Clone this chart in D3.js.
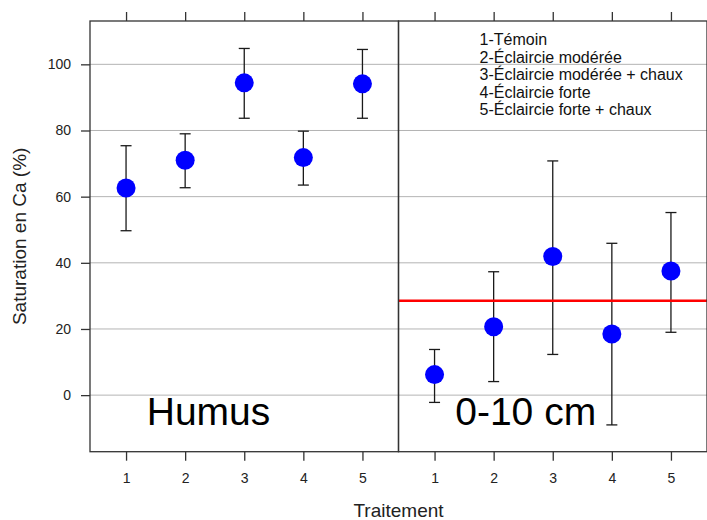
<!DOCTYPE html>
<html lang="fr">
<head>
    <meta charset="UTF-8">
    <title>Saturation en Ca</title>
    <script src="https://cdn.jsdelivr.net/npm/d3@7"></script>
    <style>
        body{
            margin: 0;
            background: white;
        }
        svg text{
            font-family: "Liberation Sans", Arial, sans-serif;
        }
    </style>
</head>
<body>
</body>
<script type="text/javascript">

    // values
    let treatments = [1, 2, 3, 4, 5];
    let humusMean = [62.6, 71.0, 94.4, 71.8, 94.1];
    let humusLow  = [49.7, 62.7, 83.7, 63.5, 83.7];
    let humusHigh = [75.4, 79.0, 104.8, 79.8, 104.5];
    let soilMean = [6.2, 20.7, 41.9, 18.5, 37.5];
    let soilLow  = [-2.2, 4.1, 12.3, -9.0, 19.0];
    let soilHigh = [13.8, 37.3, 70.8, 45.9, 55.2];
    let soilRef = 28.5;
    let yTicks = [0, 20, 40, 60, 80, 100];
    let panelNames = ["Humus", "0-10 cm"];
    let legendLabels = ["1-Témoin", "2-Éclaircie modérée", "3-Éclaircie modérée + chaux",
                        "4-Éclaircie forte", "5-Éclaircie forte + chaux"];

    let width = 707, height = 520;
    let plotLeft = 90, plotTop = 21, plotBottom = 451.7;
    let panelW = 308.5;

    let svg = d3.select("body")
        .append("svg")
        .attr("width", width)
        .attr("height", height);

    let y = d3.scaleLinear()
        .domain([-17.1, 113.1])
        .range([plotBottom, plotTop]);

    let panels = [
        {name: panelNames[0], mean: humusMean, low: humusLow, high: humusHigh, ref: null},
        {name: panelNames[1], mean: soilMean, low: soilLow, high: soilHigh, ref: soilRef}
    ];

    // grid across both panels
    svg.append("g")
        .selectAll("line")
        .data(yTicks)
        .join("line")
        .attr("x1", plotLeft)
        .attr("x2", plotLeft + 2 * panelW)
        .attr("y1", d => y(d))
        .attr("y2", d => y(d))
        .attr("stroke", "#b4b4b4")
        .attr("stroke-width", 1);

    // left axis
    let yAxis = d3.axisLeft(y)
        .tickValues(yTicks)
        .tickSize(9)
        .tickPadding(10);
    let yAxisGroup = svg.append("g")
        .attr("transform", `translate(${plotLeft},0)`)
        .call(yAxis);
    yAxisGroup.select(".domain").remove();
    yAxisGroup.selectAll("line").attr("stroke", "#333").attr("stroke-width", 1.3);
    yAxisGroup.selectAll("text").attr("font-size", 14).attr("fill", "#222")
        .attr("font-family", "Liberation Sans, Arial, sans-serif");

    panels.forEach((p, i) => {
        let x0 = plotLeft + i * panelW;
        let x = d3.scaleLinear()
            .domain([0.39, 5.61])
            .range([x0, x0 + panelW]);

        let g = svg.append("g");

        // bottom and top axes
        let xAxis = d3.axisBottom(x)
            .tickValues(treatments)
            .tickSize(9)
            .tickPadding(12)
            .tickFormat(d3.format("d"));
        let xb = g.append("g")
            .attr("transform", `translate(0,${plotBottom})`)
            .call(xAxis);
        xb.select(".domain").remove();
        xb.selectAll("line").attr("stroke", "#333").attr("stroke-width", 1.3);
        xb.selectAll("text").attr("font-size", 14).attr("fill", "#222")
            .attr("font-family", "Liberation Sans, Arial, sans-serif");

        let xt = g.append("g")
            .attr("transform", `translate(0,${plotTop})`)
            .call(d3.axisTop(x).tickValues(treatments).tickSize(9).tickFormat(""));
        xt.select(".domain").remove();
        xt.selectAll("line").attr("stroke", "#333").attr("stroke-width", 1.3);

        // error bars
        let bars = g.append("g")
            .attr("stroke", "#1a1a1a")
            .attr("stroke-width", 1.3);
        bars.selectAll(".stem")
            .data(treatments)
            .join("line")
            .attr("class", "stem")
            .attr("x1", d => x(d)).attr("x2", d => x(d))
            .attr("y1", (d, j) => y(p.low[j]))
            .attr("y2", (d, j) => y(p.high[j]));
        bars.selectAll(".capHi")
            .data(treatments)
            .join("line")
            .attr("class", "capHi")
            .attr("x1", d => x(d) - 5.5).attr("x2", d => x(d) + 5.5)
            .attr("y1", (d, j) => y(p.high[j]))
            .attr("y2", (d, j) => y(p.high[j]));
        bars.selectAll(".capLo")
            .data(treatments)
            .join("line")
            .attr("class", "capLo")
            .attr("x1", d => x(d) - 5.5).attr("x2", d => x(d) + 5.5)
            .attr("y1", (d, j) => y(p.low[j]))
            .attr("y2", (d, j) => y(p.low[j]));

        if (p.ref !== null) {
            g.append("line")
                .attr("x1", x0).attr("x2", x0 + panelW)
                .attr("y1", y(p.ref)).attr("y2", y(p.ref))
                .attr("stroke", "#ff0000")
                .attr("stroke-width", 2.5);
        }

        g.append("g")
            .selectAll("circle")
            .data(treatments)
            .join("circle")
            .attr("cx", d => x(d))
            .attr("cy", (d, j) => y(p.mean[j]))
            .attr("r", 9.5)
            .attr("fill", "#0000ff");

        // panel name, bottom left of each panel
        g.append("text")
            .attr("x", x(1.35))
            .attr("y", 425)
            .attr("font-size", 39)
            .attr("fill", "#000")
            .text(p.name);

        // panel frame
        g.append("rect")
            .attr("x", x0).attr("y", plotTop)
            .attr("width", panelW).attr("height", plotBottom - plotTop)
            .attr("fill", "none")
            .attr("stroke", "#333")
            .attr("stroke-width", 1.3);

        if (i === 1) {
            g.append("g")
                .selectAll("text")
                .data(legendLabels)
                .join("text")
                .attr("x", x0 + 81)
                .attr("y", (d, k) => 45 + k * 17.5)
                .attr("font-size", 16)
                .attr("fill", "#111")
                .text(d => d);
        }
    });

    svg.append("text")
        .attr("x", plotLeft + panelW)
        .attr("y", 517)
        .attr("text-anchor", "middle")
        .attr("font-size", 19)
        .attr("fill", "#222")
        .text("Traitement");

    svg.append("text")
        .attr("transform", `translate(26,${(plotTop + plotBottom) / 2}) rotate(-90)`)
        .attr("text-anchor", "middle")
        .attr("font-size", 19)
        .attr("fill", "#222")
        .text("Saturation en Ca (%)");
</script>
</html>
